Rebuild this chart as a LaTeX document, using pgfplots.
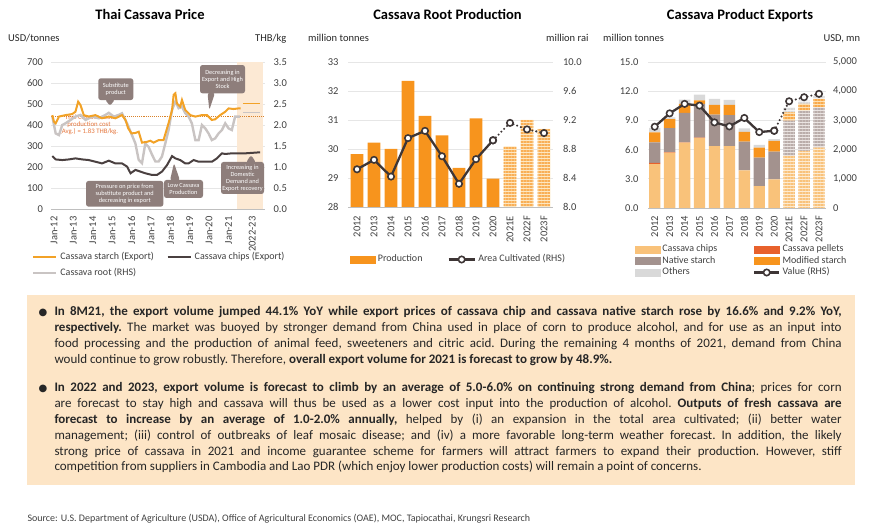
\documentclass[border=0pt]{standalone}
\usepackage{pgfplots}
\pgfplotsset{compat=1.18}
\usepackage{fontspec}
\setmainfont{Carlito}
\newfontfamily\symfont{DejaVu Sans}
\usetikzlibrary{patterns.meta}

\definecolor{starch}{HTML}{F2A227}
\definecolor{chipsline}{HTML}{4A4040}
\definecolor{rootline}{HTML}{C9C4C3}
\definecolor{costline}{HTML}{D9822B}
\definecolor{costtext}{HTML}{E4743A}
\definecolor{shadebg}{HTML}{FCE9D4}
\definecolor{callout}{HTML}{8E7E7B}
\definecolor{prod}{HTML}{F7941D}
\definecolor{prodpale}{HTML}{FDE7C2}
\definecolor{linedark}{HTML}{3E3636}
\definecolor{cchips}{HTML}{F9C27A}
\definecolor{cchipspale}{HTML}{FDEBD2}
\definecolor{pellet}{HTML}{E8612C}
\definecolor{native}{HTML}{A3928E}
\definecolor{nativepale}{HTML}{EAE4E2}
\definecolor{modif}{HTML}{F7941D}
\definecolor{modifpale}{HTML}{FCE1B6}
\definecolor{others}{HTML}{D9D9D9}
\definecolor{otherspale}{HTML}{F3F3F3}
\definecolor{gridgray}{HTML}{E6E6E6}
\definecolor{axisgray}{HTML}{BFBFBF}
\definecolor{boxbg}{HTML}{FDE5C6}
\definecolor{bodytext}{HTML}{262626}
\definecolor{ticktext}{HTML}{404040}

\tikzset{mk/.style={mark=*, mark size=3.2pt, mark options={fill=white, draw=linedark, solid, line width=1.6pt}}}

\pgfplotsset{
  panel/.style={scale only axis, anchor=north west, clip mode=individual,
    tick style={draw=none}, axis line style={draw=none},
    tick label style={font=\fontsize{10.5}{12}\selectfont, text=ticktext},
    /pgf/number format/assume math mode=true,
    xticklabel style={rotate=90, anchor=east},
    scaled y ticks=false},
  gridded/.style={ymajorgrids, major grid style={draw=gridgray, line width=0.6pt}},
  rhs/.style={hide x axis, yticklabel pos=right},
  onedec/.style={yticklabel style={/pgf/number format/fixed, /pgf/number format/fixed zerofill, /pgf/number format/precision=1}},
  lgd/.style={legend cell align=left,
    legend style={draw=none, fill=none, inner sep=0pt, outer sep=0pt, anchor=north west,
      font=\fontsize{10}{12}\selectfont,
      nodes={inner xsep=0pt, inner ysep=0pt, text height=7pt, text depth=2pt, text=ticktext}}},
}

\newcommand\bul{\makebox[15.8pt][l]{{\symfont\fontsize{10}{10}\selectfont ●}}}

\begin{document}
\begin{tikzpicture}[x=1pt,y=1pt]
\path[use as bounding box] (0,0) rectangle (870,529);

% ---------------- Thai Cassava Price ----------------
\node[anchor=base, font=\bfseries\fontsize{14.5}{16}\selectfont] at (150,509) {Thai Cassava Price};
\node[anchor=base west, inner sep=0pt, font=\fontsize{10.5}{12}\selectfont, text=bodytext] at (8,487.3) {USD/tonnes};
\node[anchor=base west, inner sep=0pt, font=\fontsize{10.5}{12}\selectfont, text=bodytext] at (255,487.3) {THB/kg};

\begin{axis}[panel, gridded, at={(51pt,467pt)}, width=214pt, height=147pt,
  xmin=2011.85, xmax=2022.88, ymin=0, ymax=700, ytick={0,100,...,700},
  xtick={2012,2013,...,2021,2022.22},
  xticklabels={Jan-12,Jan-13,Jan-14,Jan-15,Jan-16,Jan-17,Jan-18,Jan-19,Jan-20,Jan-21,2022-23},
  xticklabel shift=4pt, yticklabel shift=4.5pt]
\fill[shadebg] (axis cs:2021.43,0) rectangle (axis cs:2022.77,700);
\draw[axisgray, line width=0.8pt] (rel axis cs:0,0) -- (rel axis cs:1,0);
\addplot[costline, line width=1.1pt, densely dotted] coordinates {(2011.85,440) (2022.88,440)};
\end{axis}

\node[anchor=north, align=center, inner sep=0pt, text=costtext, font=\fontsize{6.8}{6.7}\selectfont] at (89,414)
  {Thai Cassava root\\production cost\\(Avg.) = 1.83 THB/kg.};

\begin{axis}[panel, rhs, onedec, at={(51pt,467pt)}, width=214pt, height=147pt,
  xmin=2011.85, xmax=2022.88, ymin=0, ymax=3.5, ytick={0,0.5,...,3.5},
  yticklabel shift=5pt]
\addplot[rootline, line width=2.4pt] coordinates {
(2011.92,2.2)(2012.09,1.8)(2012.26,1.76)(2012.43,2.0)(2012.6,2.04)(2012.86,2.12)(2013.11,2.2)
(2013.37,2.24)(2013.63,2.12)(2013.97,2.2)(2014.32,2.16)(2014.66,2.24)(2014.83,2.29)(2015.09,2.2)
(2015.34,2.24)(2015.51,2.28)(2015.77,2.04)(2015.95,1.84)(2016.2,1.56)(2016.37,1.17)(2016.54,1.09)
(2016.71,1.56)(2016.88,1.48)(2017.06,1.29)(2017.23,1.13)(2017.4,1.13)(2017.57,1.25)(2017.74,1.56)
(2017.91,1.88)(2018.09,2.36)(2018.26,2.56)(2018.43,2.4)(2018.6,2.44)(2018.77,2.28)(2018.94,2.2)
(2019.11,2.04)(2019.29,1.64)(2019.46,1.64)(2019.63,2.0)(2019.8,1.92)(2019.97,1.8)(2020.14,1.64)
(2020.31,1.68)(2020.49,1.8)(2020.66,1.88)(2020.83,2.04)(2021.0,1.92)(2021.17,1.88)(2021.34,2.2)(2021.6,2.2)};
\addplot[rootline, line width=1.2pt] coordinates {(2021.74,2.3) (2022.62,2.3)};
\end{axis}

\begin{axis}[panel, hide axis, lgd, at={(51pt,467pt)}, width=214pt, height=147pt,
  xmin=2011.85, xmax=2022.88, ymin=0, ymax=700,
  legend columns=2,
  legend style={at={(-0.0888,-0.2946)}, column sep=3pt, row sep=7pt,
    /tikz/every even column/.append style={column sep=12.8pt}}]
\addplot[starch, line width=2pt, forget plot] coordinates {
(2011.92,447)(2012.0,416)(2012.09,408)(2012.26,440)(2012.6,447)(2012.94,452)(2013.11,463)(2013.25,511)
(2013.37,495)(2013.54,447)(2013.8,440)(2014.14,447)(2014.48,432)(2014.83,440)(2015.17,432)(2015.51,447)
(2015.69,424)(2015.83,384)(2016.0,360)(2016.2,362)(2016.37,368)(2016.54,316)(2016.8,320)(2016.97,325)
(2017.14,316)(2017.4,328)(2017.65,328)(2017.91,409)(2018.09,471)(2018.17,543)(2018.26,551)(2018.34,503)
(2018.51,487)(2018.6,519)(2018.77,471)(2019.03,447)(2019.29,440)(2019.63,447)(2019.89,447)(2020.14,424)
(2020.31,427)(2020.57,447)(2020.83,463)(2021.0,479)(2021.26,476)(2021.52,479)(2021.62,479)};
\addplot[starch, line width=1.5pt, forget plot] coordinates {(2021.74,503) (2022.62,503)};
\addplot[chipsline, line width=2pt, forget plot] coordinates {
(2011.92,252)(2012.09,236)(2012.43,233)(2012.77,236)(2013.11,241)(2013.46,236)(2013.8,233)(2014.14,225)
(2014.48,217)(2014.83,230)(2015.17,217)(2015.51,217)(2015.77,202)(2015.95,170)(2016.2,186)(2016.46,178)
(2016.71,170)(2017.06,162)(2017.31,162)(2017.57,178)(2017.83,209)(2018.09,252)(2018.26,241)(2018.51,233)
(2018.77,217)(2018.94,217)(2019.2,233)(2019.46,225)(2019.8,225)(2020.14,225)(2020.4,241)(2020.66,265)
(2020.83,262)(2021.17,265)(2021.52,265)(2021.86,265)(2022.63,270)};
\addlegendimage{legend image code/.code={\draw[starch, line width=2pt] (0pt,0pt) -- (23pt,0pt);}}
\addlegendimage{legend image code/.code={\draw[chipsline, line width=2pt] (0pt,0pt) -- (23pt,0pt);}}
\addlegendimage{legend image code/.code={\draw[rootline, line width=2.4pt] (0pt,0pt) -- (23pt,0pt);}}
\legend{Cassava starch (Export), Cassava chips (Export), Cassava root (RHS)}
\end{axis}

% callouts
\tikzset{callout/.style={fill=callout, text=white, rounded corners=2.5pt, align=center, inner sep=1pt,
  font=\fontsize{6.3}{7}\selectfont}}
\node[callout, minimum width=35pt, minimum height=21.7pt] at (115.8,439.8) {Substitute\\product};
\fill[callout] (105,429.5) -- (115,429.5) -- (110,423) -- cycle;
\node[callout, minimum width=45pt, minimum height=28.3pt] at (222.5,449.8) {Decreasing in\\Export and High\\Stock};
\fill[callout] (207.5,436.2) -- (215,436.2) -- (209.3,419) -- cycle;
\node[callout, minimum width=77.3pt, minimum height=25.7pt] at (124.7,335.2) {Pressure on price from\\substitute product and\\decreasing in export};
\node[callout, minimum width=39pt, minimum height=18pt] at (183.5,340) {Low Cassava\\Production};
\fill[callout] (170,348.5) -- (180,348.5) -- (174,366) -- cycle;
\node[callout, minimum width=43pt, minimum height=32pt] at (242.5,351) {Increasing in\\Domestic\\Demand and\\Export recovery};
\fill[callout] (246,366.5) -- (256,366.5) -- (251,374) -- cycle;

% ---------------- Cassava Root Production ----------------
\node[anchor=base, font=\bfseries\fontsize{14.5}{16}\selectfont] at (447.5,509) {Cassava Root Production};
\node[anchor=base west, inner sep=0pt, font=\fontsize{10.5}{12}\selectfont, text=bodytext] at (308,487.3) {million tonnes};
\node[anchor=base west, inner sep=0pt, font=\fontsize{10.5}{12}\selectfont, text=bodytext] at (546,487.3) {million rai};

\begin{axis}[panel, gridded, at={(348pt,467pt)}, width=205pt, height=145pt,
  xmin=-0.53, xmax=11.53, ymin=28, ymax=33, ytick={28,...,33},
  xtick={0,...,11},
  xticklabels={2012,2013,2014,2015,2016,2017,2018,2019,2020,2021E,2022F,2023F},
  xticklabel shift=5.5pt, yticklabel shift=6pt]
\draw[axisgray, line width=0.8pt] (rel axis cs:0,0) -- (rel axis cs:1,0);
\addplot[ybar, bar width=12.7pt, bar shift=0pt, fill=prod, draw=none] coordinates {
(0,29.82)(1,30.22)(2,30.0)(3,32.35)(4,31.14)(5,30.47)(6,29.35)(7,31.06)(8,28.98)};
\addplot[ybar, bar width=12.7pt, bar shift=0pt, fill=prodpale, draw=none,
  postaction={pattern={Lines[angle=0,distance=3pt,line width=1.5pt]}, pattern color=prod!75}] coordinates {
(9,30.09)(10,31.0)(11,30.69)};
\end{axis}

\begin{axis}[panel, rhs, onedec, lgd, at={(348pt,467pt)}, width=205pt, height=145pt,
  xmin=-0.53, xmax=11.53, ymin=8, ymax=10, ytick={8,8.4,8.8,9.2,9.6,10},
  yticklabel shift=6.5pt,
  legend columns=2,
  legend style={at={(0.0098,-0.331)}, column sep=2.5pt,
    /tikz/every even column/.append style={column sep=25pt}}]
\addplot[linedark, line width=2.3pt, line cap=round, dash pattern=on 0pt off 4pt, mk, forget plot] coordinates {
(8,8.92)(9,9.16)(10,9.07)(11,9.02)};
\addplot[linedark, line width=2.3pt, mk, forget plot] coordinates {
(0,8.52)(1,8.65)(2,8.42)(3,8.95)(4,9.05)(5,8.70)(6,8.32)(7,8.66)(8,8.92)};
\addlegendimage{legend image code/.code={\fill[prod] (0pt,-3.3pt) rectangle (25pt,3.3pt);}}
\addlegendimage{legend image code/.code={\draw[linedark, line width=2.3pt, mk, mark repeat=2, mark phase=2] plot coordinates {(0pt,0pt) (13pt,0pt) (26pt,0pt)};}}
\legend{Production, Area Cultivated (RHS)}
\end{axis}

% ---------------- Cassava Product Exports ----------------
\node[anchor=base, font=\bfseries\fontsize{14.5}{16}\selectfont] at (740,509) {Cassava Product Exports};
\node[anchor=base west, inner sep=0pt, font=\fontsize{10.5}{12}\selectfont, text=bodytext] at (603,487.3) {million tonnes};
\node[anchor=base west, inner sep=0pt, font=\fontsize{10.5}{12}\selectfont, text=bodytext] at (823.3,487.3) {USD, mn};

\begin{axis}[panel, gridded, onedec, at={(648pt,467pt)}, width=178pt, height=146pt,
  xmin=-0.45, xmax=11.47, ymin=0, ymax=15, ytick={0,3,...,15},
  xtick={0,...,11},
  xticklabels={2012,2013,2014,2015,2016,2017,2018,2019,2020,2021E,2022F,2023F},
  xticklabel shift=4.5pt, yticklabel shift=6pt,
  ybar stacked, bar width=11.4pt]
\draw[axisgray, line width=0.8pt] (rel axis cs:0,0) -- (rel axis cs:1,0);
\addplot[fill=cchips, draw=none] coordinates {(0,4.5)(1,5.7)(2,6.72)(3,7.2)(4,6.35)(5,6.35)(6,3.87)(7,2.25)(8,2.95)};
\addplot[fill=pellet, draw=none] coordinates {(0,0.13)(1,0.03)(2,0.02)(3,0.02)(4,0)(5,0)(6,0)(7,0)(8,0)};
\addplot[fill=native, draw=none] coordinates {(0,2.1)(1,2.48)(2,3.02)(3,3.48)(4,3.25)(5,3.2)(6,2.96)(7,2.92)(8,2.85)};
\addplot[fill=modif, draw=none] coordinates {(0,1.04)(1,0.93)(2,0.93)(3,0.35)(4,1.0)(5,1.05)(6,1.0)(7,1.03)(8,1.1)};
\addplot[fill=others, draw=none] coordinates {(0,0.45)(1,0.16)(2,0.45)(3,0.6)(4,0.6)(5,0.5)(6,0.34)(7,0.28)(8,0.17)};
\end{axis}

\begin{axis}[panel, hide axis, at={(648pt,467pt)}, width=178pt, height=146pt,
  xmin=-0.45, xmax=11.47, ymin=0, ymax=15, ybar stacked, bar width=11.4pt]
\addplot[fill=cchipspale, draw=none, postaction={pattern={Lines[angle=0,distance=3pt,line width=1.3pt]}, pattern color=cchips}]
  coordinates {(9,5.35)(10,5.86)(11,6.21)};
\addplot[fill=nativepale, draw=none, postaction={pattern={Lines[angle=0,distance=3pt,line width=1.3pt]}, pattern color=native!75}]
  coordinates {(9,3.62)(10,4.14)(11,4.13)};
\addplot[fill=modifpale, draw=none, postaction={pattern={Lines[angle=0,distance=3pt,line width=1.3pt]}, pattern color=modif!80}]
  coordinates {(9,0.86)(10,0.69)(11,0.87)};
\addplot[fill=otherspale, draw=none, postaction={pattern={Lines[angle=0,distance=3pt,line width=1.3pt]}, pattern color=others}]
  coordinates {(9,0.51)(10,0.34)(11,0.34)};
\end{axis}

\begin{axis}[panel, rhs, lgd, at={(648pt,467pt)}, width=178pt, height=146pt,
  xmin=-0.45, xmax=11.47, ymin=0, ymax=5000, ytick={0,1000,...,5000},
  yticklabel style={/pgf/number format/1000 sep={,}},
  yticklabel shift=3.5pt,
  legend columns=2,
  legend style={at={(-0.073,-0.2534)}, column sep=2.5pt, row sep=2.5pt,
    /tikz/every even column/.append style={column sep=36pt}}]
\addplot[linedark, line width=2.3pt, line cap=round, dash pattern=on 0pt off 4pt, mk, forget plot] coordinates {
(8,2645)(9,3655)(10,3793)(11,3910)};
\addplot[linedark, line width=2.3pt, mk, forget plot] coordinates {
(0,2783)(1,3241)(2,3566)(3,3507)(4,2931)(5,2793)(6,3083)(7,2600)(8,2645)};
\addlegendimage{legend image code/.code={\fill[cchips] (0pt,-3.3pt) rectangle (24.5pt,3.3pt);}}
\addlegendimage{legend image code/.code={\fill[pellet] (0pt,-3.3pt) rectangle (24.5pt,3.3pt);}}
\addlegendimage{legend image code/.code={\fill[native] (0pt,-3.3pt) rectangle (24.5pt,3.3pt);}}
\addlegendimage{legend image code/.code={\fill[modif] (0pt,-3.3pt) rectangle (24.5pt,3.3pt);}}
\addlegendimage{legend image code/.code={\fill[others] (0pt,-3.3pt) rectangle (24.5pt,3.3pt);}}
\addlegendimage{legend image code/.code={\draw[linedark, line width=2.3pt, mk, mark repeat=2, mark phase=2] plot coordinates {(0pt,0pt) (12.25pt,0pt) (24.5pt,0pt)};}}
\legend{Cassava chips, Cassava pellets, Native starch, Modified starch, Others, Value (RHS)}
\end{axis}

% ---------------- text box ----------------
\fill[boxbg] (27,44) rectangle (855,234);
\node[anchor=north west, inner sep=0pt, text width=803pt, align=justify, font=\fontsize{13}{15.8}\selectfont, text=bodytext] at (38.5,222.5) {%
\frenchspacing
\hangindent=15.8pt\hangafter=1\noindent\bul\textbf{In 8M21, the export volume jumped 44.1\% YoY while export prices of cassava chip and cassava native starch rose by 16.6\% and 9.2\% YoY,}\linebreak
\textbf{respectively.} The market was buoyed by stronger demand from China used in place of corn to produce alcohol, and for use as an input into\linebreak
food processing and the production of animal feed, sweeteners and citric acid. During the remaining 4 months of 2021, demand from China\linebreak
would continue to grow robustly. Therefore, \textbf{overall export volume for 2021 is forecast to grow by 48.9\%.}\par
\vspace{12.9pt}
\hangindent=15.8pt\hangafter=1\noindent\bul\textbf{In 2022 and 2023, export volume is forecast to climb by an average of 5.0-6.0\% on continuing strong demand from China}; prices for corn\linebreak
are forecast to stay high and cassava will thus be used as a lower cost input into the production of alcohol. \textbf{Outputs of fresh cassava are}\linebreak
\textbf{forecast to increase by an average of 1.0-2.0\% annually,} helped by (i) an expansion in the total area cultivated; (ii) better water\linebreak
management; (iii) control of outbreaks of leaf mosaic disease; and (iv) a more favorable long-term weather forecast. In addition, the likely\linebreak
strong price of cassava in 2021 and income guarantee scheme for farmers will attract farmers to expand their production. However, stiff\linebreak
competition from suppliers in Cambodia and Lao PDR (which enjoy lower production costs) will remain a point of concerns.\par};

\node[anchor=base west, inner sep=0pt, font=\fontsize{10}{11}\selectfont, text=ticktext] at (27.3,7.3)
  {Source: U.S. Department of Agriculture (USDA), Office of Agricultural Economics (OAE), MOC, Tapiocathai, Krungsri Research};
\end{tikzpicture}
\end{document}
